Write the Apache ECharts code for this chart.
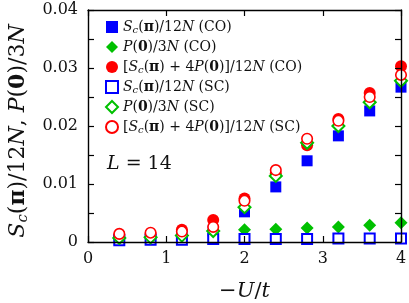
<!DOCTYPE html>
<html><head><meta charset="utf-8">
<script src="https://cdn.jsdelivr.net/npm/echarts@6/dist/echarts.min.js"></script>
<style>html,body{margin:0;padding:0;background:#fff}#c{width:409px;height:303px}</style>
</head><body><div id="c"></div>
<script>
const U = [0.4, 0.8, 1.2, 1.6, 2.0, 2.4, 2.8, 3.2, 3.6, 4.0];
const scCO   = [0.0004, 0.0005, 0.0010, 0.0019, 0.0052, 0.0095, 0.0140, 0.0183, 0.0226, 0.0267];
const pCO    = [0.0008, 0.0009, 0.0011, 0.0019, 0.0021, 0.0022, 0.0024, 0.0026, 0.0029, 0.0033];
const combCO = [0.0012, 0.0014, 0.0021, 0.0038, 0.0075, 0.0118, 0.0167, 0.0212, 0.0257, 0.0303];
const scSC   = [0.0003, 0.0004, 0.0004, 0.0005, 0.0005, 0.0005, 0.0005, 0.0006, 0.0006, 0.0006];
const pSC    = [0.0007, 0.0008, 0.0011, 0.0019, 0.0060, 0.0114, 0.0171, 0.0200, 0.0241, 0.0278];
const combSC = [0.0014, 0.0016, 0.0018, 0.0026, 0.0071, 0.0124, 0.0178, 0.0209, 0.0250, 0.0288];
const xTicks = [0, 1, 2, 3, 4];
const yTickLabels = ['0', '0.01', '0.02', '0.03', '0.04'];
const seriesNames = ['ScCO', 'PCO', 'combCO', 'ScSC', 'PSC', 'combSC'];
const legendLabels = {
  ScCO: '{i|S}{s|c}({b|π})/12{i|N} (CO)',
  PCO: '{i|P}({b|0})/3{i|N} (CO)',
  combCO: '[{i|S}{s|c}({b|π}) + 4{i|P}({b|0})]/12{i|N} (CO)',
  ScSC: '{i|S}{s|c}({b|π})/12{i|N} (SC)',
  PSC: '{i|P}({b|0})/3{i|N} (SC)',
  combSC: '[{i|S}{s|c}({b|π}) + 4{i|P}({b|0})]/12{i|N} (SC)'
};
const yTitle = '{i|S}{s|c}({b|π})/12{i|N}, {i|P}({b|0})/3{i|N}';
const xTitle = '{m|−}{i|U}/{i|t}';
const boxLabel = '{i|L} = 14';

const F = 'DejaVu Serif';
const TXT = '#111';
function richSet(fs, key) {
  const c = key || 'color';
  const o = {
    i: {fontFamily: F, fontStyle: 'italic', fontSize: fs},
    b: {fontFamily: F, fontWeight: 'bold', fontSize: fs},
    m: {fontFamily: F, fontSize: fs},
    s: {fontFamily: F, fontStyle: 'italic', fontSize: Math.round(fs * 0.68), padding: [Math.round(fs * 0.45), 0, 0, 0]}
  };
  Object.keys(o).forEach(k => { o[k][c] = TXT; });
  return o;
}
const diamond = 'path://M0,-1L1,0L0,1L-1,0Z';
const BLUE = '#0000ff', GREEN = '#00c000', RED = '#ff0000';
function pts(arr) { return U.map((u, k) => [u, arr[k]]); }

const baseSeries = {type: 'scatter', clip: false, emphasis: {disabled: true}, z: 2};
const series = [
  Object.assign({}, baseSeries, {name: 'ScCO', data: pts(scCO), symbol: 'rect', symbolSize: 11, itemStyle: {color: BLUE, opacity: 1}}),
  Object.assign({}, baseSeries, {name: 'PCO', data: pts(pCO), symbol: diamond, symbolSize: 13, itemStyle: {color: GREEN, opacity: 1}}),
  Object.assign({}, baseSeries, {name: 'combCO', data: pts(combCO), symbol: 'circle', symbolSize: 12, itemStyle: {color: RED, opacity: 1}}),
  Object.assign({}, baseSeries, {name: 'ScSC', data: pts(scSC), symbol: 'rect', symbolSize: 10, itemStyle: {color: '#fff', borderColor: BLUE, borderWidth: 2, opacity: 1}}),
  Object.assign({}, baseSeries, {name: 'PSC', data: pts(pSC), symbol: diamond, symbolSize: 12, itemStyle: {color: '#fff', borderColor: GREEN, borderWidth: 2, opacity: 1}}),
  Object.assign({}, baseSeries, {name: 'combSC', data: pts(combSC), symbol: 'circle', symbolSize: 10.5, itemStyle: {color: '#fff', borderColor: RED, borderWidth: 1.6, opacity: 1}})
];

const axLine = {show: true, onZero: false, lineStyle: {color: '#000', width: 1.4}};
const tick = {show: true, inside: true, length: 6, lineStyle: {color: '#000', width: 1.2}};
const minor = {show: true, splitNumber: 2, length: 6, lineStyle: {color: '#000', width: 1.2}};

const chart = echarts.init(document.getElementById('c'), null, {renderer: 'canvas'});
chart.setOption({
  animation: false,
  backgroundColor: '#fff',
  grid: {left: 88, right: 8, top: 10, bottom: 61, containLabel: false, outerBoundsMode: 'none'},
  xAxis: [
    {type: 'value', min: xTicks[0], max: xTicks[xTicks.length - 1], interval: 1, z: 10,
     axisLine: axLine, axisTick: tick, splitLine: {show: false},
     axisLabel: {fontFamily: F, fontSize: 16, color: TXT, margin: 9},
     name: xTitle, nameLocation: 'middle', nameGap: 39,
     nameTextStyle: {fontFamily: F, fontSize: 21, color: TXT, rich: richSet(21)}},
    {type: 'value', position: 'top', min: xTicks[0], max: xTicks[xTicks.length - 1], interval: 1, z: 10,
     axisLine: axLine, axisTick: tick, splitLine: {show: false}, axisLabel: {show: false}}
  ],
  yAxis: [
    {type: 'value', min: 0, max: 0.04, interval: 0.01, z: 10,
     axisLine: axLine, axisTick: tick, minorTick: minor, splitLine: {show: false},
     axisLabel: {fontFamily: F, fontSize: 16, color: TXT, margin: 10,
       formatter: v => yTickLabels[Math.round(v / 0.01)]}},
    {type: 'value', position: 'right', min: 0, max: 0.04, interval: 0.01, z: 10,
     axisLine: axLine, axisTick: tick, minorTick: minor, splitLine: {show: false}, axisLabel: {show: false}}
  ],
  legend: {
    orient: 'vertical', left: 105, top: 19, padding: 0, itemWidth: 12, itemHeight: 12, itemGap: 4,
    data: seriesNames, selectedMode: false,
    formatter: n => legendLabels[n],
    textStyle: {fontFamily: F, fontSize: 14, color: TXT, lineHeight: 16, rich: richSet(14)}
  },
  graphic: [
    {type: 'text', left: 107, top: 155, z: 20,
     style: {text: boxLabel, fontFamily: F, fontSize: 19, fill: TXT, rich: richSet(19, 'fill')}},
    {type: 'text', x: 18, y: 131, rotation: Math.PI / 2, z: 20,
     style: {text: yTitle, fontFamily: F, fontSize: 22, fill: TXT, align: 'center', verticalAlign: 'middle', rich: richSet(22, 'fill')}}
  ],
  series: series
});
</script>
</body></html>
